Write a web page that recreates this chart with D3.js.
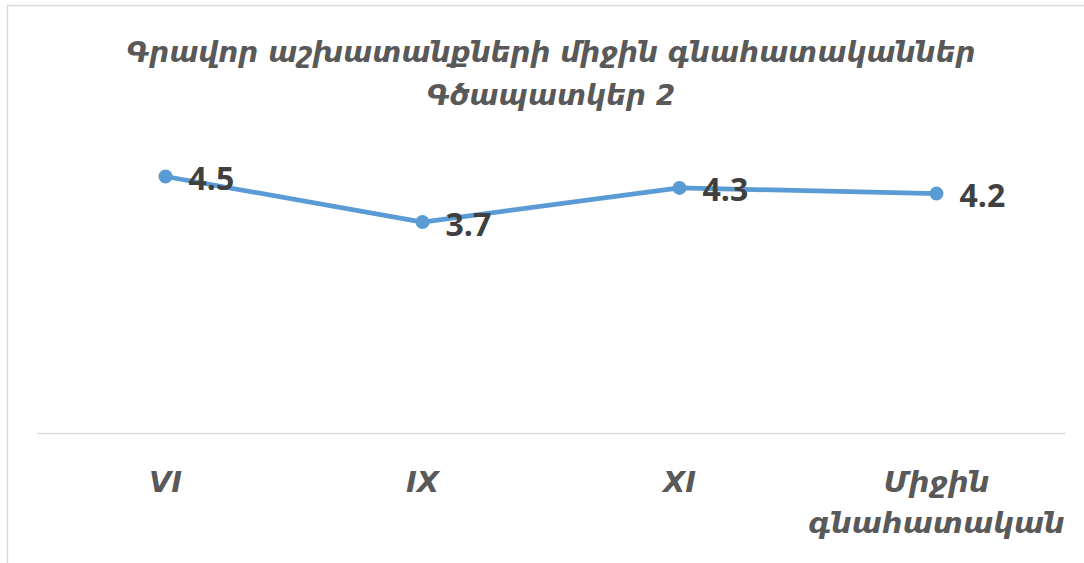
<!DOCTYPE html>
<html>
<head>
<meta charset="utf-8">
<script src="https://cdn.jsdelivr.net/npm/d3@7"></script>
<style>
  body { margin: 0; background: #fff; }
  .title { font-family: "DejaVu Sans", sans-serif; font-style: italic; font-weight: bold; fill: #595959; }
  .catLabel { font-family: "DejaVu Sans", sans-serif; font-style: italic; font-weight: bold; fill: #595959; }
  .valLabel { font-family: "Open Sans", sans-serif; font-weight: bold; fill: #404040; }
</style>
</head>
<body>
<div id="chart"></div>
<script>
// Data
var titleLines = ["Գրավոր աշխատանքների միջին գնահատականներ", "Գծապատկեր 2"];
var categories = ["VI", "IX", "XI", "Միջին գնահատական"];
var values = [4.5, 3.7, 4.3, 4.2];
var yDomain = [0, 5];

var svgWidth = 1084;
var svgHeight = 563;

var svg = d3.select("#chart")
  .append("svg")
  .attr("width", svgWidth)
  .attr("height", svgHeight);

// chart border (only top and left visible in the crop)
svg.append("path")
  .attr("d", "M7.5,563 L7.5,5.5 L1084,5.5")
  .attr("fill", "none")
  .attr("stroke", "#d9d9d9")
  .attr("stroke-width", 1.5);

// Scales
var xScale = d3.scaleBand()
  .domain(categories)
  .range([37, 1065]);

var yScale = d3.scaleLinear()
  .domain(yDomain)
  .range([433, 148]);

// Title
var title = svg.append("text")
  .attr("class", "title")
  .attr("text-anchor", "middle")
  .attr("font-size", 28);
titleLines.forEach(function (t, i) {
  title.append("tspan")
    .attr("x", 551)
    .attr("y", 62 + i * 43)
    .text(t);
});

// X axis
var xAxis = d3.axisBottom(xScale).tickSize(0).tickFormat("");
var axisG = svg.append("g")
  .attr("transform", `translate(0, ${yScale(0)})`)
  .call(xAxis);
axisG.select(".domain")
  .attr("stroke", "#d9d9d9")
  .attr("stroke-width", 1.5);

// Category labels (wrapped)
var wrapped = {
  "Միջին գնահատական": ["Միջին", "գնահատական"]
};
categories.forEach(function (c) {
  var lines = wrapped[c] || [c];
  var t = svg.append("text")
    .attr("class", "catLabel")
    .attr("text-anchor", "middle")
    .attr("font-size", 29);
  lines.forEach(function (l, i) {
    t.append("tspan")
      .attr("x", xScale(c) + xScale.bandwidth() / 2)
      .attr("y", 492 + i * 41)
      .text(l);
  });
});

var data = categories.map(function (c, i) { return { cat: c, value: values[i] }; });
var cx = d => xScale(d.cat) + xScale.bandwidth() / 2;

// Line
var line = d3.line()
  .x(cx)
  .y(d => yScale(d.value));

svg.append("path")
  .datum(data)
  .attr("fill", "none")
  .attr("stroke", "#5b9bd5")
  .attr("stroke-width", 4.75)
  .attr("stroke-linejoin", "round")
  .attr("d", line);

// Markers
svg.selectAll("circle.marker")
  .data(data)
  .enter()
  .append("circle")
  .attr("class", "marker")
  .attr("cx", cx)
  .attr("cy", d => yScale(d.value))
  .attr("r", 7)
  .attr("fill", "#5b9bd5");

// Value labels (right of point)
svg.selectAll("text.valLabel")
  .data(data)
  .enter()
  .append("text")
  .attr("class", "valLabel")
  .attr("x", d => cx(d) + 23)
  .attr("y", d => yScale(d.value) + 2)
  .attr("dy", "0.36em")
  .attr("font-size", 32)
  .text(d => d3.format(".1f")(d.value));
</script>
</body>
</html>
